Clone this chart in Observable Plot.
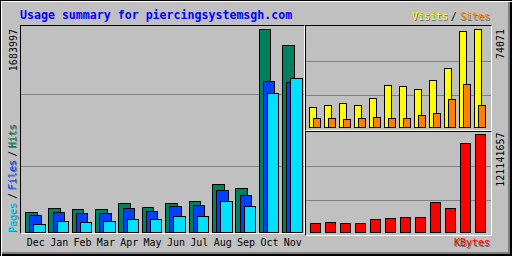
<!DOCTYPE html>
<html><head><meta charset="utf-8">
<script src="https://cdn.jsdelivr.net/npm/d3@7"></script>
<script src="https://cdn.jsdelivr.net/npm/@observablehq/plot@0.6"></script>
<style>
html,body{margin:0;padding:0;background:#fff;}
#chart{position:relative;width:512px;height:256px;background:#C0C0C0;overflow:hidden;
 box-shadow: inset 1px 1px 0 #000, inset 2px 2px 0 #fff, inset -2px -2px 0 #000, inset -4px -4px 0 #808080;
 font-family:"DejaVu Sans Mono",monospace;}
.box{position:absolute;box-sizing:border-box;border-top:1px solid #000;border-left:1px solid #000;border-right:1px solid #fff;border-bottom:1px solid #fff;}
.txt{position:absolute;white-space:nowrap;line-height:0;font-size:10px;}
.pl{position:absolute;}
.sh{text-shadow:1px 1px 0 #707070;}
.shr{text-shadow:-1px 1px 0 #707070;}
.sl{margin:0 3px;color:#000;}
</style></head><body>
<div id="chart">
  <div class="box" style="left:20px;top:25px;width:285px;height:209px;"></div>
  <div class="box" style="left:305px;top:25px;width:187px;height:106px;"></div>
  <div class="box" style="left:305px;top:131px;width:187px;height:105px;"></div>
  <div class="txt" style="left:20px;top:15px;font-size:11.6px;font-weight:bold;color:#0000FF;">Usage summary for piercingsystemsgh.com</div>
  <div class="txt" style="right:22px;top:17px;"><span class="sh" style="color:#FFFF00">Visits</span><span class="sl">/</span><span class="sh" style="color:#FF8000">Sites</span></div>
  <div class="txt" style="right:22px;top:243px;"><span class="sh" style="color:#FF0000">KBytes</span></div>
  <div class="txt" style="left:13px;top:232px;transform-origin:0 0;transform:rotate(-90deg);"><span class="shr" style="color:#00E0FF">Pages</span><span class="sl">/</span><span class="shr" style="color:#0040FF">Files</span><span class="sl">/</span><span class="shr" style="color:#00805C">Hits</span></div>
</div>
<script>
const months = ["Dec","Jan","Feb","Mar","Apr","May","Jun","Jul","Aug","Sep","Oct","Nov"];
const hits   = [168400, 201500, 193250, 193250, 242940, 209810, 242940, 259500, 400300, 367170, 1683997, 1551500];
const files  = [143560, 168400, 160120, 160120, 201530, 176680, 218090, 226370, 350600, 309190, 1253340, 1245060];
const pages  = [69000, 93860, 85580, 93860, 110430, 110430, 135270, 135270, 259500, 218090, 1153960, 1278170];
const visits = [15316, 16823, 18330, 16823, 22096, 31889, 31135, 28875, 35655, 44694, 72565, 74071];
const sites  = [6528, 6528, 5775, 6528, 7282, 6528, 6528, 8788, 10295, 20841, 32642, 16823];
const kbytes = [11125253, 12361392, 11125253, 11125253, 16069810, 17305949, 18542088, 18542088, 37084176, 29667341, 110016389, 121141657];
const gridFractions = [0.33, 0.68];

const C = {hits:"#00805C", files:"#0040FF", pages:"#00E0FF", visits:"#FFFF00", sites:"#FF8000", kbytes:"#FF0000", grid:"#808080"};
const rows = months.map((m, i) => ({i, m, hits: hits[i], files: files[i], pages: pages[i], visits: visits[i], sites: sites[i], kbytes: kbytes[i]}));
const font = {background: "transparent", overflow: "visible", fontFamily: "DejaVu Sans Mono, monospace", fontSize: "10px"};
const chart = document.getElementById("chart");
function place(svg, left, top) { svg.classList.add("pl"); svg.style.left = left + "px"; svg.style.top = top + "px"; chart.appendChild(svg); }
function bars(key, a, b) {
  return Plot.rectY(rows, {x1: d => d.i + a, x2: d => d.i + b, y: key, fill: C[key], stroke: "black", strokeWidth: 1, shapeRendering: "crispEdges"});
}
function grid(max) {
  return Plot.ruleY(gridFractions.map(f => f * max), {stroke: C.grid, strokeWidth: 1, shapeRendering: "crispEdges"});
}

const maxH = d3.max(hits), maxV = d3.max(visits), maxK = d3.max(kbytes);

const p1 = Plot.plot({
  width: 283, height: 226, marginLeft: 0, marginRight: 0, marginTop: 3.5, marginBottom: 19.5,
  x: {type: "linear", domain: [-4.5/23.36, 278.5/23.36], axis: null},
  y: {domain: [0, maxH], axis: null},
  style: font,
  marks: [
    grid(maxH),
    bars("hits", 0, 0.5),
    bars("files", 0.184, 0.672),
    bars("pages", 0.355, 0.843),
    Plot.text(months, {x: (d, i) => i + 0.42, frameAnchor: "bottom", text: d => d, lineAnchor: "top", dy: 6, fill: "black", fontSize: 10}),
    Plot.text([maxH], {y: d => d, text: d => String(d), frameAnchor: "left", rotate: -90, textAnchor: "end", lineAnchor: "middle", dx: -8, dy: -1, fill: "black", fontSize: 10})
  ]
});
place(p1, 21, 26);

const p2 = Plot.plot({
  width: 185, height: 104, marginLeft: 0, marginRight: 0, marginTop: 3.5, marginBottom: 2.5,
  x: {type: "linear", domain: [-3.5/15, 181.5/15], axis: null},
  y: {domain: [0, maxV], axis: null},
  style: font,
  marks: [
    grid(maxV),
    bars("visits", 0, 0.493),
    bars("sites", 0.267, 0.76),
    Plot.text([maxV], {y: d => d, text: d => String(d), frameAnchor: "right", rotate: -90, textAnchor: "end", lineAnchor: "middle", dx: 9.5, dy: -1, fill: "black", fontSize: 10})
  ]
});
place(p2, 306, 26);

const p3 = Plot.plot({
  width: 185, height: 103, marginLeft: 0, marginRight: 0, marginTop: 2.5, marginBottom: 2.5,
  x: {type: "linear", domain: [-3.5/15, 181.5/15], axis: null},
  y: {domain: [0, maxK], axis: null},
  style: font,
  marks: [
    grid(maxK),
    bars("kbytes", 0.047, 0.713),
    Plot.text([maxK], {y: d => d, text: d => String(d), frameAnchor: "right", rotate: -90, textAnchor: "end", lineAnchor: "middle", dx: 9, dy: -2.5, fill: "black", fontSize: 10})
  ]
});
place(p3, 306, 132);
</script>
</body></html>
